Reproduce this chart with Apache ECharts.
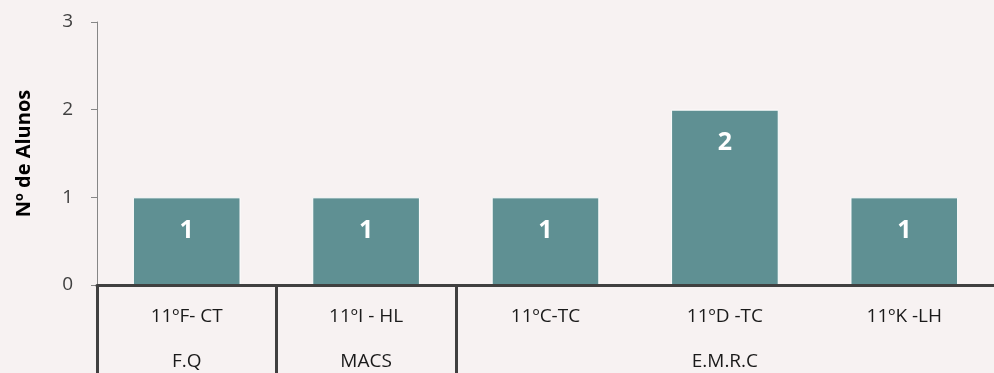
<!DOCTYPE html>
<html>
<head>
<meta charset="utf-8">
<script src="https://cdn.jsdelivr.net/npm/echarts@6/dist/echarts.min.js"></script>
<style>
  html, body { margin: 0; padding: 0; background: #f7f2f2; }
  #chart { width: 994px; height: 373px; }
</style>
</head>
<body>
<div id="chart"></div>
<script>
// turmas (categorias) e número de alunos
const turmas = ['11ºF- CT', '11ºI - HL', '11ºC-TC', '11ºD -TC', '11ºK -LH'];
const alunos = [1, 1, 1, 2, 1];

// grupos do eixo inferior: nome, início e fim (em índices de categoria)
const grupos = ['F.Q', 'MACS', 'E.M.R.C'];
const grupoInicio = [0, 1, 2];
const grupoFim = [1, 2, 5];

const fonte = '"Open Sans", "Noto Sans", sans-serif';
const corEixo = '#404040';

const grupoCentros = grupos.map((g, i) => (grupoInicio[i] + grupoFim[i]) / 2);

const chart = echarts.init(document.getElementById('chart'), null, { renderer: 'canvas' });

chart.setOption({
    backgroundColor: '#f7f2f2',
    animation: false,
    grid: { left: 97, top: 22, width: 900, bottom: 88, containLabel: false },
    xAxis: [{
        type: 'category',
        data: turmas,
        axisLine: { lineStyle: { color: corEixo, width: 3 } },
        axisTick: { show: false },
        axisLabel: { color: '#1a1a1a', fontSize: 19, fontFamily: fonte, margin: 22 },
        z: 5
    }, {
        type: 'value',
        position: 'bottom',
        min: 0,
        max: turmas.length,
        axisLine: { show: false },
        splitLine: { show: false },
        axisTick: {
            show: true,
            customValues: grupoInicio,
            length: 90,
            lineStyle: { color: corEixo, width: 3 }
        },
        axisLabel: {
            customValues: grupoCentros,
            formatter: v => grupos[grupoCentros.indexOf(v)] || '',
            color: '#1a1a1a',
            fontSize: 19,
            fontFamily: fonte,
            margin: 67
        }
    }],
    yAxis: {
        type: 'value',
        min: 0,
        max: 3,
        interval: 1,
        name: 'Nº de Alunos',
        nameLocation: 'middle',
        nameGap: 63,
        nameMoveOverlap: false,
        nameRotate: 90,
        nameTextStyle: { color: '#000', fontSize: 20, fontWeight: 'bold', fontFamily: fonte },
        axisLine: { show: true, lineStyle: { color: '#868686', width: 1 } },
        axisTick: { show: true, length: 6, lineStyle: { color: '#868686' } },
        axisLabel: { color: corEixo, fontSize: 19, fontFamily: fonte, margin: 24 },
        splitLine: { show: false }
    },
    series: [{
        type: 'bar',
        data: alunos,
        xAxisIndex: 0,
        barWidth: '60%',
        itemStyle: { color: '#5f9093', borderColor: '#ffffff', borderWidth: 1 },
        label: {
            show: true,
            position: 'insideTop',
            distance: 21,
            color: '#ffffff',
            fontSize: 25,
            fontWeight: 'bold',
            fontFamily: fonte
        }
    }]
});
</script>
</body>
</html>
